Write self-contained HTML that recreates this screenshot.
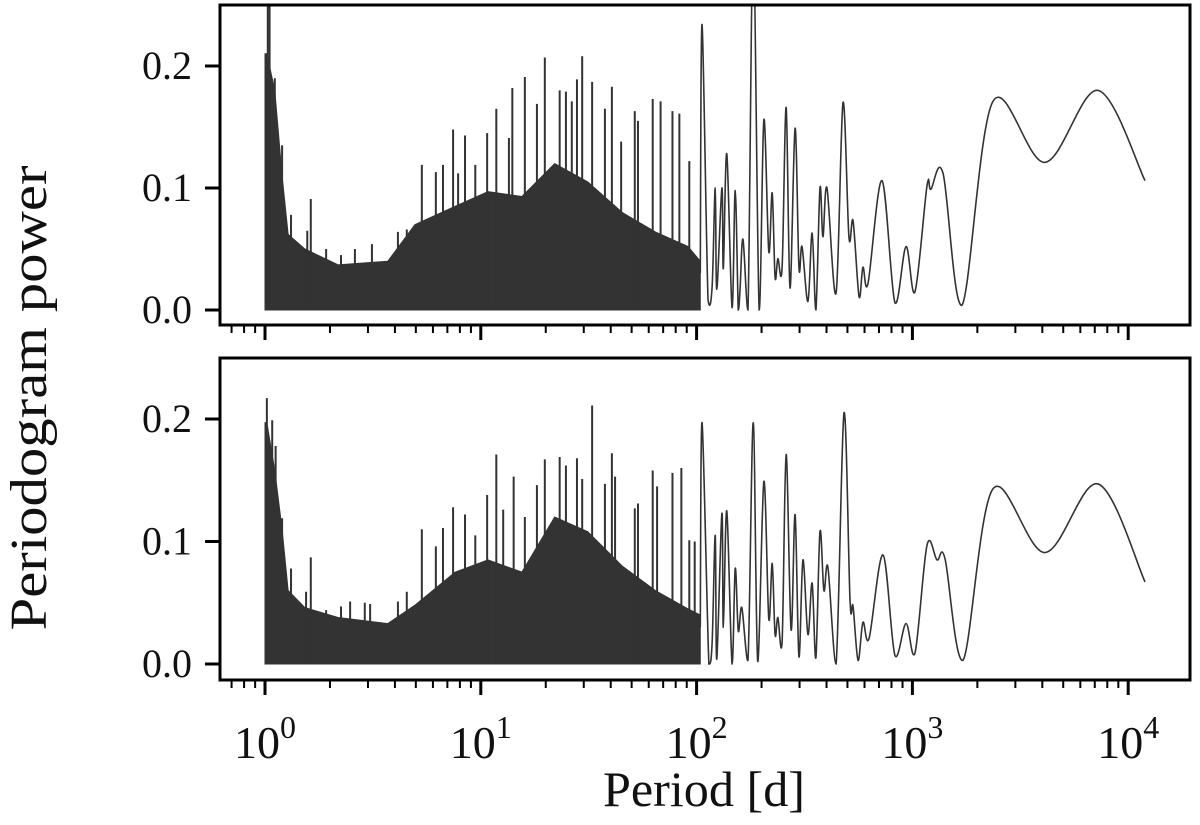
<!DOCTYPE html>
<html><head><meta charset="utf-8"><style>
html,body{margin:0;padding:0;background:#fff;}
svg{display:block;font-family:"Liberation Serif",serif;}
</style></head><body>
<svg id="chart" width="1200" height="825" viewBox="0 0 1200 825" xmlns="http://www.w3.org/2000/svg">
<text x="0" y="0" transform="translate(46,398) rotate(-90)" text-anchor="middle" font-size="52" textLength="465" lengthAdjust="spacingAndGlyphs" fill="#111">Periodogram power</text>
<text x="704" y="806" text-anchor="middle" font-size="50" textLength="202" lengthAdjust="spacingAndGlyphs" fill="#111">Period [d]</text>
</svg>
<script>
// ---- data: top panel ----
const topBandPeriods = [1.0,1.02,1.11,1.20,1.28,1.53,2.18,3.71,4.95,7.6,10.8,15.5,22.0,31.3,45.2,64.4,91.3,104];
const topBandPower   = [0.21,0.21,0.18,0.11,0.062,0.05,0.037,0.04,0.07,0.085,0.097,0.093,0.12,0.105,0.08,0.064,0.052,0.04];
const topSpikePeriods = [1.03,1.05,1.11,1.20,1.32,1.57,1.63,1.92,2.25,2.61,3.13,4.13,4.54,5.33,6.19,6.68,7.44,7.85,8.45,9.43,10.7,11.8,13.5,14.0,16.0,18.2,19.8,23.2,24.8,26.4,27.9,29.5,32.8,37.6,40.5,44.7,51.7,53.5,62.6,68.1,77.3,83.2,92.5];
const topSpikePower   = [0.30,0.30,0.19,0.135,0.078,0.065,0.091,0.05,0.045,0.05,0.054,0.064,0.066,0.119,0.113,0.119,0.148,0.112,0.143,0.119,0.145,0.165,0.141,0.182,0.191,0.169,0.207,0.180,0.179,0.171,0.189,0.208,0.187,0.165,0.183,0.138,0.163,0.155,0.173,0.171,0.163,0.161,0.122];
const topCurvePeriods = [104,106,113,118,122,124,131,133,138,146,151,156,159,164,173,183,195,205,216,224,231,238,249,260,271,286,298,308,328,343,357,373,385,402,443,477,508,531,566,590,623,723,830,934,1028,1169,1219,1387,1698,2362,4115,7245,11970];
const topCurvePower   = [0.03,0.234,0.008,0.019,0.10,0.017,0.10,0.034,0.128,0.002,0.098,0.0,0.017,0.058,0.0,0.30,0.0,0.156,0.048,0.096,0.027,0.042,0.035,0.166,0.018,0.149,0.035,0.052,0.007,0.063,0.0,0.10,0.060,0.10,0.014,0.170,0.060,0.073,0.011,0.035,0.022,0.106,0.006,0.052,0.015,0.102,0.099,0.112,0.004,0.171,0.121,0.180,0.106];
// ---- data: bottom panel ----
const botBandPeriods = [1.0,1.02,1.11,1.20,1.28,1.53,2.18,3.71,4.95,7.6,10.8,15.5,22.0,31.3,45.2,64.4,91.3,104];
const botBandPower   = [0.197,0.197,0.158,0.11,0.06,0.046,0.038,0.033,0.048,0.075,0.085,0.075,0.12,0.108,0.08,0.06,0.045,0.04];
const botSpikePeriods = [1.02,1.08,1.12,1.20,1.32,1.55,1.63,1.92,2.25,2.48,2.90,3.07,4.13,4.54,5.33,6.19,6.68,7.44,8.45,9.43,10.7,11.8,12.7,14.2,16.0,18.2,19.8,23.2,24.8,27.9,29.5,32.8,37.6,40.5,41.9,51.7,53.5,62.6,65.6,77.3,85,92.5,98];
const botSpikePower   = [0.217,0.199,0.178,0.119,0.078,0.059,0.087,0.044,0.047,0.051,0.05,0.049,0.051,0.059,0.110,0.096,0.111,0.128,0.122,0.105,0.138,0.171,0.126,0.153,0.120,0.146,0.167,0.169,0.162,0.168,0.151,0.211,0.147,0.172,0.153,0.127,0.131,0.158,0.145,0.156,0.160,0.101,0.10];
const botCurvePeriods = [104,106,114,118,122,124,131,133,138,146,151,156,162,173,183,192,205,216,224,231,238,249,260,274,286,298,311,328,343,357,373,389,406,443,482,514,531,560,590,630,731,830,934,1028,1169,1300,1416,1716,2362,4115,7245,11970];
const botCurvePower   = [0.03,0.197,0.0,0.017,0.105,0.004,0.123,0.03,0.125,0.0,0.078,0.027,0.046,0.003,0.197,0.002,0.149,0.037,0.082,0.024,0.038,0.018,0.171,0.028,0.122,0.006,0.085,0.024,0.066,0.005,0.108,0.060,0.079,0.0,0.205,0.052,0.047,0.003,0.034,0.021,0.089,0.007,0.033,0.009,0.097,0.085,0.086,0.003,0.143,0.091,0.147,0.067];
const yTicks = [0.0,0.1,0.2];
const yTickLabels = ["0.0","0.1","0.2"];
const xDecades = [0,1,2,3,4];

const NS="http://www.w3.org/2000/svg";
const svg=document.getElementById('chart');
const X0=265, PXD=215.8, L=220, R=1190;
const xScale=p=>X0+PXD*Math.log10(p);
function mk(tag,attrs,parent){const e=document.createElementNS(NS,tag);for(const k in attrs)e.setAttribute(k,attrs[k]);(parent||svg).appendChild(e);return e;}

function catmull(pts,ymax){
  let d=`M${pts[0][0]},${pts[0][1]}`;
  const cl=v=>Math.min(v,ymax);
  for(let i=0;i<pts.length-1;i++){
    const p0=pts[Math.max(0,i-1)],p1=pts[i],p2=pts[i+1],p3=pts[Math.min(pts.length-1,i+2)];
    const c1x=p1[0]+(p2[0]-p0[0])/6, c1y=cl(p1[1]+(p2[1]-p0[1])/6);
    const c2x=p2[0]-(p3[0]-p1[0])/6, c2y=cl(p2[1]-(p3[1]-p1[1])/6);
    d+=` C${c1x.toFixed(2)},${c1y.toFixed(2)} ${c2x.toFixed(2)},${c2y.toFixed(2)} ${p2[0].toFixed(2)},${p2[1].toFixed(2)}`;
  }
  return d;
}

function panel(name,top,bottom,y0,pxPer,bandP,bandV,spP,spV,cvP,cvV,showLabels){
  const yScale=v=>y0-pxPer*v;
  const g=mk('g',{});
  
  
  const cid='clip-'+name;
  const cp=mk('clipPath',{id:cid},g);
  mk('rect',{x:L,y:top,width:R-L,height:bottom-top},cp);
  const plot=mk('g',{'clip-path':`url(#${cid})`},g);
  let d=`M${xScale(bandP[0])},${yScale(0)}`;
  for(let i=0;i<bandP.length;i++) d+=` L${xScale(bandP[i]).toFixed(2)},${yScale(bandV[i]).toFixed(2)}`;
  d+=` L${xScale(bandP[bandP.length-1])},${yScale(0)} Z`;
  const band=mk('path',{d:d,fill:'#333',stroke:'#333','stroke-width':1},plot);
  
  
  for(let i=0;i<spP.length;i++){
    const x=xScale(spP[i]);
    const s=mk('line',{x1:x,x2:x,y1:yScale(0),y2:yScale(spV[i]),stroke:'#333','stroke-width':2},plot);
    
    
  }
  const pts=cvP.map((p,i)=>[xScale(p),yScale(cvV[i])]);
  const c=mk('path',{d:catmull(pts,yScale(0)),fill:'none',stroke:'#333','stroke-width':1.6},plot);
  
  
  const f=mk('rect',{x:L,y:top,width:R-L,height:bottom-top,fill:'none',stroke:'#000','stroke-width':3},g);
  
  
  yTicks.forEach((v,i)=>{
    const y=yScale(v);
    const t=mk('line',{x1:L-15,x2:L,y1:y,y2:y,stroke:'#000','stroke-width':3},g);
    
    
    const lb=mk('text',{x:L-28,y:y+13,'text-anchor':'end','font-size':40,fill:'#111'},g);
    lb.textContent=yTickLabels[i];
    
    
  });
  for(let e=-1;e<=4;e++){
    for(let m=1;m<=9;m++){
      const x=xScale(m*Math.pow(10,e));
      if(x<L+2||x>R-2) continue;
      const len=m===1?15:8;
      const t=mk('line',{x1:x,x2:x,y1:bottom,y2:bottom+len,stroke:'#000','stroke-width':m===1?3:2},g);
      
      
    }
  }
  if(showLabels){
    xDecades.forEach(e=>{
      const x=xScale(Math.pow(10,e));
      const lb=mk('text',{x:x,y:758,'text-anchor':'middle','font-size':46,fill:'#111'},g);
      
      
      lb.textContent='10';
      const sup=mk('tspan',{dy:-20,'font-size':32},lb);
      sup.textContent=String(e);
    });
  }
}
panel('top-panel',5,325,310,1220,topBandPeriods,topBandPower,topSpikePeriods,topSpikePower,topCurvePeriods,topCurvePower,false);
panel('bottom-panel',358,680,664,1225,botBandPeriods,botBandPower,botSpikePeriods,botSpikePower,botCurvePeriods,botCurvePower,true);
</script>
</body></html>
